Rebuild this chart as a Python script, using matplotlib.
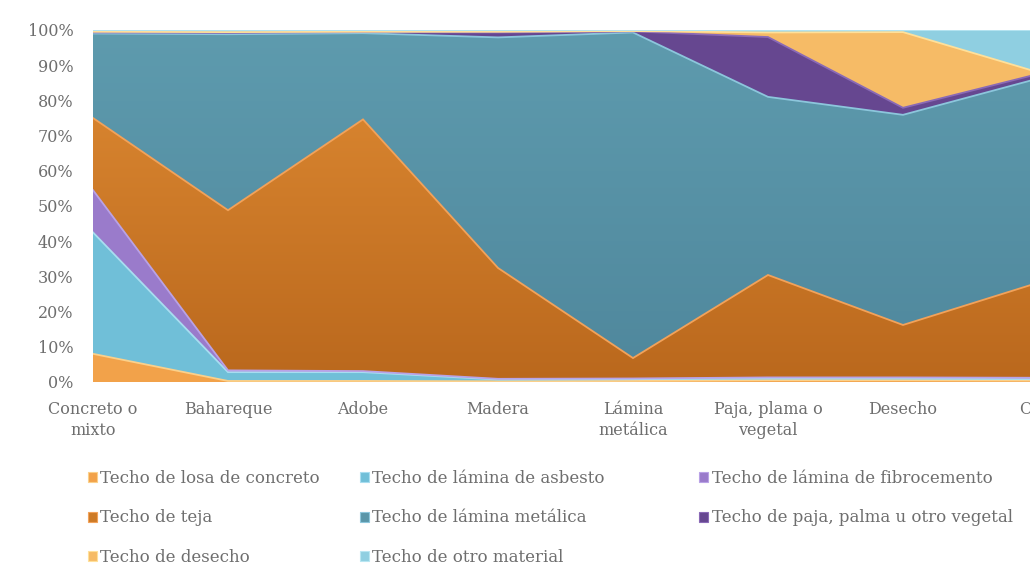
import numpy as np
import matplotlib
matplotlib.use('Agg')
import matplotlib.pyplot as plt
from matplotlib.patches import Patch
from matplotlib.colors import LinearSegmentedColormap
from matplotlib.ticker import PercentFormatter

# Data (shares in %) #
categories = ['Concreto o\nmixto', 'Bahareque', 'Adobe', 'Madera', 'Lámina\nmetálica',
              'Paja, plama o\nvegetal', 'Desecho', 'Otro']

losa = [8.0, 0.3, 0.3, 0.2, 0.3, 0.5, 0.5, 0.4]
asbesto = [34.5, 2.5, 2.5, 0.5, 0.5, 0.5, 0.5, 0.4]
fibro = [12.0, 0.5, 0.3, 0.2, 0.2, 0.3, 0.3, 0.4]
teja = [20.5, 45.5, 71.5, 31.5, 5.8, 29.1, 14.9, 27.0]
metalica = [24.0, 50.0, 24.5, 65.5, 92.5, 50.6, 59.7, 58.0]
paja = [0.3, 0.4, 0.3, 1.4, 0.3, 17.0, 2.0, 1.3]
desecho = [0.2, 0.2, 0.1, 0.2, 0.1, 1.3, 21.5, 0.5]
otro = [0.5, 0.6, 0.5, 0.5, 0.3, 0.7, 0.6, 12.0]

series_names = ['Techo de losa de concreto', 'Techo de lámina de asbesto',
                'Techo de lámina de fibrocemento', 'Techo de teja',
                'Techo de lámina metálica', 'Techo de paja, palma u otro vegetal',
                'Techo de desecho', 'Techo de otro material']

# Styles #
fills = ['#F2A24A', '#70BFD8', '#9A7BCB', '#CD7A26', '#5A96A9', '#664790', '#F6BB66', '#8FCFE1']
edges = ['#FBD08A', '#A8DDF0', '#B9A2E6', '#F2A25A', '#8CC6DC', '#8A6AB6', '#FFE09A', '#B8E6F2']
# vertical gradients (bottom colour, top colour) for the two big bands #
gradients = {3: ('#BA681D', '#E08C34'), 4: ('#4F879C', '#5E9BAE')}
txt = '#6e6e6e'

plt.rcParams['font.family'] = ['DejaVu Serif']

fig = plt.figure(figsize=(10.3, 5.67), dpi=100)
ax = fig.add_axes([93 / 1030, 1 - 382 / 567, 945 / 1030, 352 / 567])

data = np.array([losa, asbesto, fibro, teja, metalica, paja, desecho, otro])
data = data / data.sum(axis=0) * 100  # 100% stacked
x = np.arange(len(categories))

polys = ax.stackplot(x, data, colors=fills, edgecolor='none')

# gradient fill clipped to the band #
ramp = np.linspace(0, 1, 256).reshape(-1, 1)
for i, (c0, c1) in gradients.items():
    cmap = LinearSegmentedColormap.from_list('g%d' % i, [c0, c1])
    im = ax.imshow(ramp, cmap=cmap, aspect='auto', origin='lower',
                   extent=[0, len(categories) - 1, 0, 100], zorder=polys[i].get_zorder())
    im.set_clip_path(polys[i].get_paths()[0], ax.transData)

# light border on top of every band #
cum = np.cumsum(data, axis=0)
for i in range(len(data)):
    ax.plot(x, cum[i], color=edges[i], lw=1.3, solid_joinstyle='miter', zorder=3)

ax.set_xlim(0, len(categories) - 1)
ax.set_ylim(0, 100)
ax.set_yticks(np.arange(0, 101, 10))
ax.yaxis.set_major_formatter(PercentFormatter(decimals=0))
ax.set_xticks(x)
ax.set_xticklabels(categories, linespacing=1.25)
ax.tick_params(axis='both', length=0, labelsize=11.5, colors=txt)
ax.tick_params(axis='x', pad=14)
ax.tick_params(axis='y', pad=14)
for s in ax.spines.values():
    s.set_visible(False)

# Legend: three columns, filled row by row #
handles = [Patch(facecolor=fills[i], edgecolor=edges[i], lw=0.8) for i in range(8)]
col_x = [88, 360, 699]
for c in range(3):
    idx = list(range(c, 8, 3))
    leg = fig.legend([handles[i] for i in idx], [series_names[i] for i in idx],
                     loc='upper left', bbox_to_anchor=(col_x[c] / 1030, 1 - 470 / 567),
                     frameon=False, fontsize=12, handlelength=0.55, handleheight=0.55,
                     handletextpad=0.2, labelspacing=1.35, borderaxespad=0, borderpad=0)
    for t in leg.get_texts():
        t.set_color(txt)

fig.savefig('out.png', dpi=100)
